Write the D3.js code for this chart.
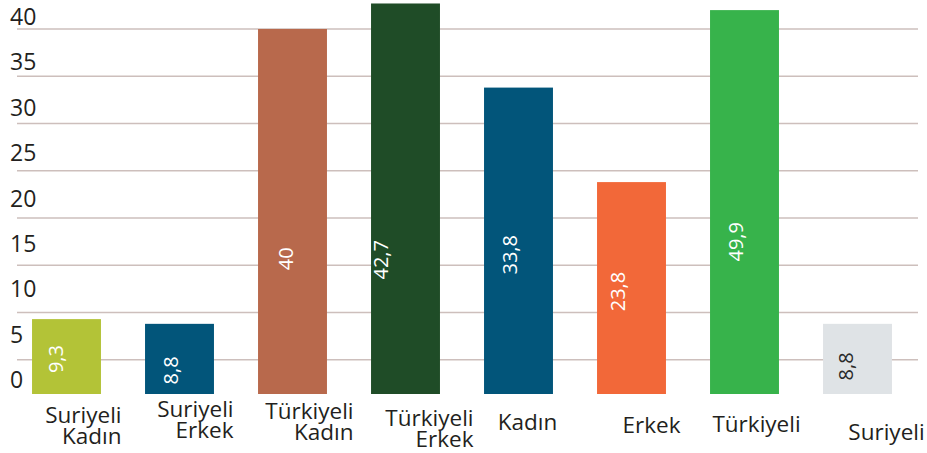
<!DOCTYPE html>
<html>
<head>
<meta charset="utf-8">
<script src="https://cdn.jsdelivr.net/npm/d3@7"></script>
<style>
  body { margin: 0; background: #fff; }
  text { font-family: "Open Sans", "Noto Sans", sans-serif; }
</style>
</head>
<body>
<div id="chart"></div>
<script>
// categories, in the order shown
let categories = ["Suriyeli Kadın", "Suriyeli Erkek", "Türkiyeli Kadın", "Türkiyeli Erkek",
                  "Kadın", "Erkek", "Türkiyeli", "Suriyeli"];
// printed values (the labels inside the bars)
let valueLabels = ["9,3", "8,8", "40", "42,7", "33,8", "23,8", "49,9", "8,8"];
// bar heights as drawn in the picture (Türkiyeli is drawn at ~42, not 49,9)
let barValues = [9.3, 8.8, 40, 42.7, 33.8, 23.8, 42, 8.8];
let barColors = ["#b3c337", "#02557a", "#b8694c", "#1f4c27", "#02557a", "#f26839", "#37b34b", "#dfe3e6"];
// y axis tick labels
let yTicks = [0, 5, 10, 15, 20, 25, 30, 35, 40];

// nudges for the category labels (relative to band centre / label row)
let labelDx = [55, 54, 61, 68, 9, 20, 12, 29];
let labelDy = [-2, -8, -6, 1, 5, 8, 7, 15];
// nudges for the rotated value labels
let valueDx = [-4, -2, 0, -18, -2, -7, -2, -5];
let valueDy = [-4, 5, 3, 4, -1, -3, -14, 1];

let width = 927, height = 453;
let barBottom = 394;

let svg = d3.select("#chart").append("svg")
    .attr("width", width)
    .attr("height", height);

// set the ranges
let x = d3.scaleBand()
    .domain(categories)
    .range([10, 914])
    .paddingInner(0.39)
    .paddingOuter(0.195);

let y = d3.scaleLinear().domain([0, 40]).range([407, 29]);
// the tick labels sit on their own, slightly tighter spacing
let yLab = d3.scaleLinear().domain([0, 40]).range([388, 25]);

// grid lines
svg.append("g")
    .selectAll("line")
    .data(yTicks.filter(function(d) { return d > 0; }))
    .join("line")
    .attr("x1", 17)
    .attr("x2", 918)
    .attr("y1", function(d) { return y(d); })
    .attr("y2", function(d) { return y(d); })
    .attr("stroke", "#cdbfbc")
    .attr("stroke-width", 1.6);

// y tick labels
svg.append("g")
    .selectAll("text")
    .data(yTicks)
    .join("text")
    .attr("x", 10)
    .attr("y", function(d) { return yLab(d); })
    .attr("font-size", 23)
    .attr("fill", "#231f20")
    .text(function(d) { return d; });

// bars
svg.append("g")
    .selectAll("rect")
    .data(categories)
    .join("rect")
    .attr("x", function(d) { return x(d); })
    .attr("width", x.bandwidth())
    .attr("y", function(d, i) { return y(barValues[i]); })
    .attr("height", function(d, i) { return barBottom - y(barValues[i]); })
    .attr("fill", function(d, i) { return barColors[i]; });

// value labels, rotated
svg.append("g")
    .selectAll("text")
    .data(categories)
    .join("text")
    .attr("transform", function(d, i) {
        let cx = x(d) + x.bandwidth() / 2 + valueDx[i];
        let cy = y(Math.min(barValues[i] / 2, 16)) + valueDy[i];
        return "translate(" + cx + "," + cy + ") rotate(-90)";
    })
    .attr("text-anchor", "middle")
    .attr("font-size", 20)
    .attr("fill", function(d, i) { return i === categories.length - 1 ? "#2b2b2b" : "#ffffff"; })
    .text(function(d, i) { return valueLabels[i]; });

// category labels (two words -> two lines, right aligned)
let labelRow = 425;
let cat = svg.append("g")
    .selectAll("text")
    .data(categories)
    .join("text")
    .attr("font-size", 22.5)
    .attr("fill", "#231f20")
    .attr("text-anchor", function(d) { return d.indexOf(" ") > -1 ? "end" : "middle"; })
    .attr("transform", function(d, i) {
        let cx = x(d) + x.bandwidth() / 2 + labelDx[i];
        return "translate(" + cx + "," + (labelRow + labelDy[i]) + ")";
    });

cat.selectAll("tspan")
    .data(function(d) { return d.split(" "); })
    .join("tspan")
    .attr("x", 0)
    .attr("y", function(d, j) { return j * 21; })
    .text(function(d) { return d; });
</script>
</body>
</html>
